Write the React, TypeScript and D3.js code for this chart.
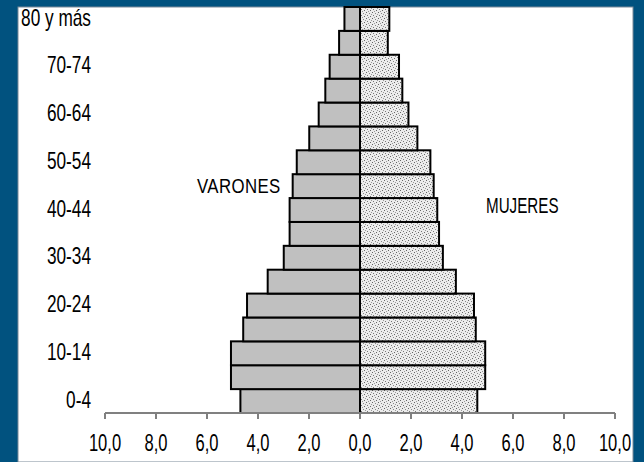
import React from 'react'
import * as d3 from 'd3'

// age groups, bottom to top
const groups = [
	'0-4', '5-9', '10-14', '15-19', '20-24', '25-29', '30-34', '35-39',
	'40-44', '45-49', '50-54', '55-59', '60-64', '65-69', '70-74', '75-79', '80 y más'
]
const labeled = ['0-4', '10-14', '20-24', '30-34', '40-44', '50-54', '60-64', '70-74', '80 y más']

// % of population
const varones = [4.69, 5.06, 5.06, 4.58, 4.43, 3.62, 2.99, 2.76, 2.76, 2.64, 2.48, 1.99, 1.62, 1.36, 1.19, 0.82, 0.61]
const mujeres = [4.6, 4.91, 4.91, 4.54, 4.47, 3.76, 3.25, 3.1, 3.03, 2.89, 2.76, 2.25, 1.9, 1.66, 1.53, 1.09, 1.15]

const W = 644
const H = 462
const SX = 0.72
const font = 'Arial, "Liberation Sans", sans-serif'

const fmt = (v: number) => d3.format('.1f')(Math.abs(v)).replace('.', ',')

const App = () => {
	const x = d3.scaleLinear().domain([-10, 10]).range([105, 615])
	const y = d3.scaleBand<string>().domain(groups).range([413, 7]).padding(0)
	const bh = y.bandwidth()
	const ticks = x.ticks(10)

	return (
		<svg
			width={W}
			height={H}
			style={{ position: 'absolute', left: 0, top: 0, display: 'block' }}
		>
			<defs>
				<pattern id="dots" width="6" height="6" patternUnits="userSpaceOnUse">
					<rect width="6" height="6" fill="#ececec" />
					<rect x="0" y="0" width="1" height="1" fill="#666" />
					<rect x="3" y="1" width="1" height="1" fill="#888" />
					<rect x="1" y="3" width="1" height="1" fill="#777" />
					<rect x="4" y="4" width="1" height="1" fill="#666" />
					<rect x="5" y="2" width="1" height="1" fill="#999" />
					<rect x="2" y="5" width="1" height="1" fill="#999" />
				</pattern>
			</defs>
			{/* marco */}
			<rect width={W} height={H} fill="#01527f" />
			<rect x={18} y={7} width={615} height={H - 7} fill="#fff" stroke="#7a8a99" strokeWidth={1} />

			{/* barras */}
			<g stroke="#000" strokeWidth={2}>
				{groups.map((g, i) => (
					<rect
						key={'v' + g}
						x={x(-varones[i])}
						y={y(g)}
						width={x(0) - x(-varones[i])}
						height={bh}
						fill="#c0c0c0"
					/>
				))}
				{groups.map((g, i) => (
					<rect
						key={'m' + g}
						x={x(0)}
						y={y(g)}
						width={x(mujeres[i]) - x(0)}
						height={bh}
						fill="url(#dots)"
					/>
				))}
			</g>

			{/* eje */}
			<g stroke="#808080" strokeWidth={2}>
				<line x1={x(-10)} x2={x(10)} y1={413} y2={413} />
				{ticks.map((t) => (
					<line key={t} x1={x(t)} x2={x(t)} y1={413} y2={419} />
				))}
			</g>
			<g fontFamily={font} fontSize={23} fill="#000">
				{ticks.map((t) => (
					<text
						key={t}
						textAnchor="middle"
						transform={`translate(${x(t)},451) scale(${SX},1)`}
					>
						{fmt(t)}
					</text>
				))}
				{labeled.map((g) => (
					<text
						key={g}
						textAnchor="end"
						dy="0.35em"
						transform={`translate(91,${(y(g) as number) + bh / 2 - 1.5}) scale(${SX + 0.03},1)`}
					>
						{g}
					</text>
				))}
				<text transform={`translate(197,193) scale(0.8,1)`} fontSize={21} letterSpacing={0.5}>
					VARONES
				</text>
				<text transform={`translate(486,213) scale(0.69,1)`} fontSize={22}>
					MUJERES
				</text>
			</g>
		</svg>
	)
}

export default App
